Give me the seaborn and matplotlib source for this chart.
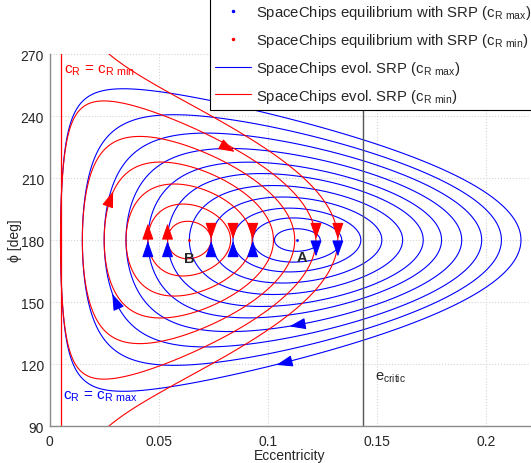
import numpy as np
import matplotlib.pyplot as plt
import seaborn as sns
from matplotlib.lines import Line2D

# ---------------------------------------------------------------------
# values
# ---------------------------------------------------------------------
# equilibria on phi = 180 deg
e_eq_max = 0.1135   # A, c_R max
e_eq_min = 0.064    # B, c_R min
phi_eq = 180.0
e_critic = 0.1437

# eccentricity where each evolution curve crosses phi = 180 deg (start point)
blue_start = [0.005, 0.015, 0.025, 0.035, 0.045, 0.054, 0.064,
              0.074, 0.084, 0.093, 0.103]
red_start = [0.005, 0.015, 0.025, 0.035, 0.045, 0.054, 0.132]

# arrow heads on the phi = 180 line: e, phi of tail, phi of tip
blue_v_e = [0.045, 0.054, 0.074, 0.084, 0.093, 0.122, 0.132]
blue_v_tail = [173.0, 173.0, 173.0, 173.0, 173.0, 178.5, 178.5]
blue_v_tip = [179.5, 179.5, 179.5, 179.5, 179.5, 172.0, 172.0]
red_v_e = [0.045, 0.054, 0.074, 0.084, 0.093, 0.122, 0.132]
red_v_tail = [181.0, 181.0, 187.0, 187.0, 187.0, 187.0, 187.0]
red_v_tip = [188.0, 188.0, 180.5, 180.5, 180.5, 180.5, 180.5]

# arrow heads along the curves (centre of the head)
blue_arrow_e = [0.030, 0.113, 0.107]
blue_arrow_phi = [150.8, 138.8, 120.4]
red_arrow_e = [0.028, 0.082]
red_arrow_phi = [200.4, 224.3]

e_limit_line = 0.005   # red vertical line (c_R min)

x_ticks = [0, 0.05, 0.1, 0.15, 0.2]
x_tick_labels = ["0", "0.05", "0.1", "0.15", "0.2"]
y_ticks = [90, 120, 150, 180, 210, 240, 270]

BLUE = (0, 0, 1)
RED = (1, 0, 0)
AXIS_GREY = "#8c8c8c"

# ---------------------------------------------------------------------
# style
# ---------------------------------------------------------------------
sns.set_style("white")
plt.rcParams["font.family"] = ["Liberation Sans", "DejaVu Sans"]
plt.rcParams["font.size"] = 10


def srp_coef(e_eq):
    # SRP coefficient giving an equilibrium at e_eq (phi = 180)
    return 3 * e_eq * (1 - e_eq ** 2) ** -2.5


def ham(e, phi_deg, a):
    # reduced SRP + J2 Hamiltonian
    return (1 - e ** 2) ** -1.5 + a * e * np.cos(np.radians(phi_deg))


fig = plt.figure(figsize=(5.31, 4.64), dpi=100)
ax = fig.add_axes([0.0934, 0.0797, 0.9047, 0.8017])
ax_w_px = 0.9047 * 531
ax_h_px = 0.8017 * 464
px_per_e = ax_w_px / 0.22
px_per_deg = ax_h_px / 180.0

E, P = np.meshgrid(np.linspace(0.0, 0.225, 1800), np.linspace(88, 272, 1400))

a_max = srp_coef(e_eq_max)
a_min = srp_coef(e_eq_min)

for a, col, starts in [(a_max, BLUE, blue_start), (a_min, RED, red_start)]:
    H = ham(E, P, a)
    lev = np.unique([ham(e0, phi_eq, a) for e0 in starts])
    ax.contour(E, P, H, levels=lev, colors=[col], linewidths=0.8)

ax.plot([e_limit_line, e_limit_line], [90, 270], color=RED, lw=0.9)
ax.axvline(e_critic, color="#555555", lw=1.0)

sns.scatterplot(x=[e_eq_max], y=[phi_eq], color=BLUE, s=4, marker="o",
                linewidth=0, ax=ax, zorder=5)
sns.scatterplot(x=[e_eq_min], y=[phi_eq], color=RED, s=4, marker="o",
                linewidth=0, ax=ax, zorder=5)

HEAD = dict(arrowstyle="-|>,head_length=1.0,head_width=0.35", lw=0.8,
            shrinkA=0, shrinkB=0, mutation_scale=10)


def head(tail, tip, color):
    ax.annotate("", xy=tip, xytext=tail, zorder=6,
                arrowprops=dict(HEAD, color=color))


def draw_curve_arrows(e_list, phi_list, a, color):
    # head follows the local flow direction of the Hamiltonian
    for e, p in zip(e_list, phi_list):
        ph = np.radians(p)
        de = -a * e * np.sin(ph)
        dp = -(3 * e * (1 - e ** 2) ** -2.5 + a * np.cos(ph))
        vx, vy = de * px_per_e, np.degrees(dp) * px_per_deg
        n = np.hypot(vx, vy)
        vx, vy = vx / n, vy / n
        half = 7.0
        head((e - vx * half / px_per_e, p - vy * half / px_per_deg),
             (e + vx * half / px_per_e, p + vy * half / px_per_deg), color)


for e, t0, t1 in zip(blue_v_e, blue_v_tail, blue_v_tip):
    head((e, t0), (e, t1), BLUE)
for e, t0, t1 in zip(red_v_e, red_v_tail, red_v_tip):
    head((e, t0), (e, t1), RED)
draw_curve_arrows(blue_arrow_e, blue_arrow_phi, a_max, BLUE)
draw_curve_arrows(red_arrow_e, red_arrow_phi, a_min, RED)

# labels in the plot
ax.text(0.0068, 261.1, r"c$\mathregular{_R}$ = c$\mathregular{_{R\ min}}$",
        color=RED, fontsize=11, va="baseline")
ax.text(0.0061, 103.4, r"c$\mathregular{_R}$ = c$\mathregular{_{R\ max}}$",
        color=BLUE, fontsize=11, va="baseline")
ax.text(e_eq_max + 0.0022, 171.8, "A", fontsize=10.5, fontweight="bold",
        ha="center", va="center")
ax.text(e_eq_min - 0.0002, 171.3, "B", fontsize=10.5, fontweight="bold",
        ha="center", va="center")
ax.text(0.1488, 112.4, r"e$\mathregular{_{critic}}$", fontsize=10.5, va="baseline")

# axes
ax.set_xlim(0, 0.22)
ax.set_ylim(90, 270)
ax.set_xticks(x_ticks)
ax.set_xticklabels(x_tick_labels)
ax.set_yticks(y_ticks)
ax.tick_params(direction="in", length=3.5, width=0.8, color=AXIS_GREY,
               labelsize=10)
ax.tick_params(axis="x", pad=5.5)
ax.tick_params(axis="y", pad=4)
ax.grid(True, color="#d4d4d4", linestyle=":", linewidth=0.8)
for s in ["top", "right"]:
    ax.spines[s].set_visible(False)
for s in ["left", "bottom"]:
    ax.spines[s].set_color(AXIS_GREY)
    ax.spines[s].set_linewidth(1.0)
ax.set_xlabel("Eccentricity", fontsize=10, labelpad=0)
ax.set_ylabel("ϕ [deg]", fontsize=10)
ax.yaxis.set_label_coords(-0.057, 0.5)

handles = [
    Line2D([], [], color=BLUE, marker=".", markersize=3, linestyle="none"),
    Line2D([], [], color=RED, marker=".", markersize=3, linestyle="none"),
    Line2D([], [], color=BLUE, lw=0.8),
    Line2D([], [], color=RED, lw=0.8),
]
labels = [
    r"SpaceChips equilibrium with SRP (c$\mathregular{_{R\ max}}$)",
    r"SpaceChips equilibrium with SRP (c$\mathregular{_{R\ min}}$)",
    r"SpaceChips evol. SRP (c$\mathregular{_{R\ max}}$)",
    r"SpaceChips evol. SRP (c$\mathregular{_{R\ min}}$)",
]
leg = fig.legend(handles, labels, loc="upper right", bbox_to_anchor=(1.0125, 1.004),
                 bbox_transform=fig.transFigure, borderaxespad=0, fancybox=False,
                 framealpha=1, edgecolor="black", handlelength=2.4,
                 handletextpad=0.35, labelspacing=0.66, fontsize=10.7,
                 borderpad=0.4)
leg.get_frame().set_linewidth(0.8)

fig.savefig("out.png", dpi=100)
